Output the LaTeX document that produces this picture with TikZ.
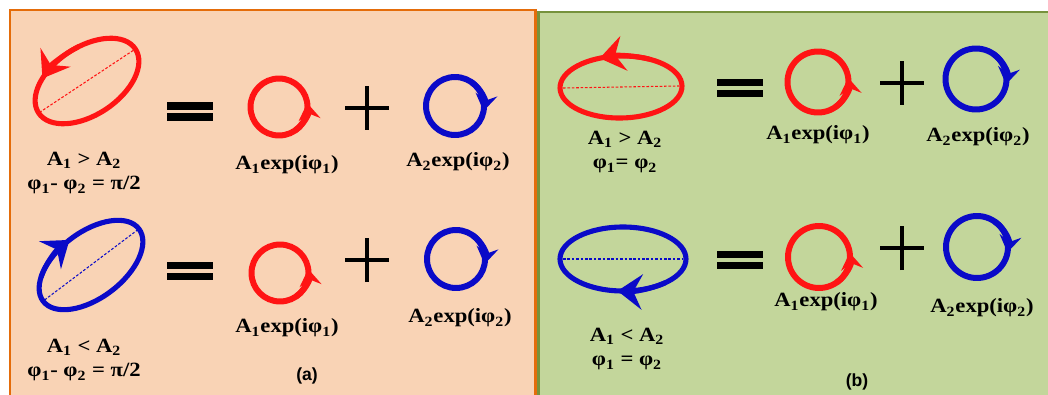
\documentclass[tikz,border=0pt]{standalone}
\usepackage{fontspec}
\setmainfont{Liberation Serif}[FakeStretch=1.12]
\newfontfamily\tagfont{Liberation Sans}
\usetikzlibrary{arrows.meta}

\definecolor{peach}{RGB}{249,211,181}
\definecolor{orangeline}{RGB}{228,108,10}
\definecolor{sage}{RGB}{195,214,155}
\definecolor{oliveline}{RGB}{118,146,60}
\definecolor{pred}{RGB}{255,20,20}
\definecolor{pblue}{RGB}{10,10,200}

\tikzset{
  txt/.style={font=\bfseries\fontsize{11.5}{14.2}\selectfont, align=center, inner sep=0pt},
  tag/.style={font=\tagfont\bfseries\fontsize{10}{12}\selectfont, inner sep=0pt},
  ring/.style={line width=3.4pt},
  loop/.style={line width=2.9pt},
  axis/.style={line width=0.6pt, dash pattern=on 1.5pt off 1pt},
  bar/.style={line width=4.5pt},
  cross/.style={line width=2.8pt},
  small tip/.style={-{Stealth[length=9.5pt, width=12.5pt, inset=3.5pt]}},
  big tip/.style={-{Stealth[length=14pt, width=20pt, inset=5pt]}}
}

\begin{document}
\begin{tikzpicture}[x=0.02cm, y=0.02cm]
  \useasboundingbox (0,0) rectangle (1048,-395);
  \clip (0,0) rectangle (1048,-395);

  % panels
  \draw[fill=peach, draw=orangeline, line width=1.7pt] (10,-10) rectangle (535,-410);
  \draw[fill=sage, draw=oliveline, line width=1.7pt] (538,-12) rectangle (1060,-410);

  % tilted ellipses, panel (a)
  \begin{scope}[shift={(87,-81)}, rotate=33.5]
    \draw[loop, pred] (0,0) ellipse[x radius=58, y radius=34];
    \draw[axis, pred] (-57,0) -- (57,0);
    \draw[loop, pred, big tip] (78:58 and 34) arc[start angle=78, end angle=128, x radius=58, y radius=34];
  \end{scope}
  \begin{scope}[shift={(91,-265)}, rotate=37]
    \draw[loop, pblue] (0,0) ellipse[x radius=60, y radius=33];
    \draw[axis, pblue] (-58,0) -- (58,0);
    \draw[loop, pblue, big tip] (142:60 and 33) arc[start angle=142, end angle=92, x radius=60, y radius=33];
  \end{scope}

  % flat ellipses, panel (b)
  \begin{scope}[shift={(621,-87)}, rotate=1]
    \draw[loop, pred] (0,0) ellipse[x radius=61, y radius=31];
    \draw[axis, pred] (-58,0) -- (58,0);
    \draw[loop, pred, big tip] (62:61 and 31) arc[start angle=62, end angle=110, x radius=61, y radius=31];
  \end{scope}
  \begin{scope}[shift={(623,-259)}]
    \draw[loop, pblue] (0,0) ellipse[x radius=63, y radius=32];
    \draw[axis, pblue] (-60,0) -- (60,0);
    \draw[loop, pblue, big tip] (312:63 and 32) arc[start angle=312, end angle=265, x radius=63, y radius=32];
  \end{scope}

  % equal signs
  \foreach \ex/\ey in {190/-111.5, 190/-271, 740/-88, 740/-260}{
    \draw[bar] (\ex-23,\ey+5.5) -- (\ex+23,\ey+5.5);
    \draw[bar] (\ex-23,\ey-5.5) -- (\ex+23,\ey-5.5);
  }

  % plus signs
  \foreach \px/\py in {367/-108, 367/-260, 902/-83, 902/-248}{
    \draw[cross] (\px-22,\py) -- (\px+22,\py);
    \draw[cross] (\px,\py-22) -- (\px,\py+22);
  }

  % red circles, counterclockwise
  \foreach \cx/\cy/\r in {279/-107/28.5, 280/-273/28.5, 818/-82/30.5, 819/-257/31}{
    \draw[ring, pred] (\cx,\cy) circle[radius=\r];
    \draw[ring, pred, small tip] (\cx,\cy) ++(-55:\r) arc[start angle=-55, end angle=8, radius=\r];
  }

  % blue circles, clockwise
  \foreach \cx/\cy/\r in {455/-106/29, 456/-259/29, 976/-79/30.5, 977/-247/31}{
    \draw[ring, pblue] (\cx,\cy) circle[radius=\r];
    \draw[ring, pblue, small tip] (\cx,\cy) ++(55:\r) arc[start angle=55, end angle=-10, radius=\r];
  }

  % labels, panel (a)
  \node[txt] (condA1) at (84,-173) {A\textsubscript{1} > A\textsubscript{2}\\φ\textsubscript{1}- φ\textsubscript{2} = π/2};
  \node[txt] (redA1) at (287,-165) {A\textsubscript{1}exp(iφ\textsubscript{1})};
  \node[txt] (blueA1) at (458,-162) {A\textsubscript{2}exp(iφ\textsubscript{2})};
  \node[txt] (condA2) at (84,-360) {A\textsubscript{1} < A\textsubscript{2}\\φ\textsubscript{1}- φ\textsubscript{2} = π/2};
  \node[txt] (redA2) at (287,-328) {A\textsubscript{1}exp(iφ\textsubscript{1})};
  \node[txt] (blueA2) at (460,-318) {A\textsubscript{2}exp(iφ\textsubscript{2})};
  \node[tag] (tagA) at (307,-376) {(a)};

  % labels, panel (b)
  \node[txt] (condB1) at (625,-152) {A\textsubscript{1} > A\textsubscript{2}\\φ\textsubscript{1}= φ\textsubscript{2}};
  \node[txt] (redB1) at (818,-135) {A\textsubscript{1}exp(iφ\textsubscript{1})};
  \node[txt] (blueB1) at (978,-137) {A\textsubscript{2}exp(iφ\textsubscript{2})};
  \node[txt] (condB2) at (627,-349) {A\textsubscript{1} < A\textsubscript{2}\\φ\textsubscript{1} = φ\textsubscript{2}};
  \node[txt] (redB2) at (826,-302) {A\textsubscript{1}exp(iφ\textsubscript{1})};
  \node[txt] (blueB2) at (982,-308) {A\textsubscript{2}exp(iφ\textsubscript{2})};
  \node[tag] (tagB) at (857,-382) {(b)};
\end{tikzpicture}
\end{document}
